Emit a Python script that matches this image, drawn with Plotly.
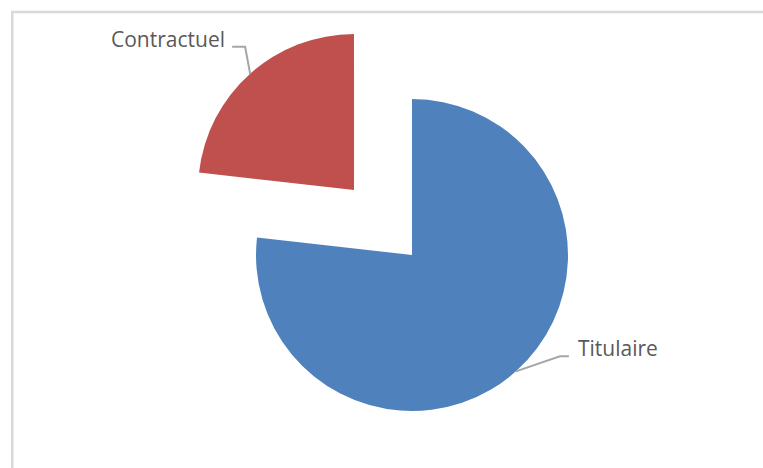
import math
import plotly.graph_objects as go

# Staff by contract type (share, %)
labels = ["Titulaire", "Contractuel"]
values = [76.8, 23.2]
colors = ["#4F81BD", "#C0504D"]
explode = [0.0, 0.558]  # radial offset of each slice, as a fraction of the radius

W, H = 763, 468
CX, CY, R = 412, 255, 156  # pie centre and radius, in pixels
TEXT = "#595959"
LEADER = "#A6A6A6"
FONT = "'Open Sans', Lato, sans-serif"


def px(x, y):
    """Pixel position -> paper coordinates."""
    return x / W, 1 - y / H


def domain(cx, cy, r):
    return dict(x=[(cx - r) / W, (cx + r) / W],
                y=[(H - cy - r) / H, (H - cy + r) / H])


total = sum(values)
start = 0.0
mids = []
for v in values:
    frac = v / total
    mids.append((start + frac / 2) * 2 * math.pi)  # clockwise from 12 o'clock
    start += frac

fig = go.Figure()
shapes = []
annotations = []

# label placement relative to the slice's arc anchor: (elbow dx, dy), horizontal run, text gap
label_geom = {
    "Contractuel": ((-5, -27), -13, -5, "right"),
    "Titulaire": ((44, -15), 9, 7, "left"),
}

for i, lab in enumerate(labels):
    a = mids[i]
    ox = math.sin(a) * explode[i] * R
    oy = -math.cos(a) * explode[i] * R
    cx, cy = CX + ox, CY + oy
    slice_colors = [c if j == i else "rgba(0,0,0,0)" for j, c in enumerate(colors)]
    fig.add_trace(go.Pie(
        labels=labels, values=values, sort=False, direction="clockwise",
        rotation=0, domain=domain(cx, cy, R),
        marker=dict(colors=slice_colors, line=dict(width=0)),
        textinfo="none", hoverinfo="label+percent", showlegend=False,
    ))

    # leader line from the slice's arc to its label
    ax, ay = cx + math.sin(a) * R, cy - math.cos(a) * R
    (edx, edy), run, gap, anchor = label_geom[lab]
    ex, ey = ax + edx, ay + edy
    tx, ty = ex + run, ey
    p0, p1, p2 = px(ax, ay), px(ex, ey), px(tx, ty)
    shapes.append(dict(
        type="path", xref="paper", yref="paper",
        path=f"M {p0[0]} {p0[1]} L {p1[0]} {p1[1]} L {p2[0]} {p2[1]}",
        line=dict(color=LEADER, width=2),
    ))
    lx, ly = px(tx + gap, ty - 8)
    annotations.append(dict(
        text=lab, x=lx, y=ly, xref="paper", yref="paper",
        xanchor=anchor, yanchor="middle", showarrow=False,
        font=dict(family=FONT, size=21, color=TEXT),
    ))

# chart-area frame
fx, fy = px(12.3, 12)
shapes.append(dict(type="rect", xref="paper", yref="paper",
                   x0=fx, x1=1.05, y0=-0.05, y1=fy,
                   line=dict(color="#D9D9D9", width=2.5)))

fig.update_layout(
    width=W, height=H,
    margin=dict(l=0, r=0, t=0, b=0),
    paper_bgcolor="white", plot_bgcolor="white",
    shapes=shapes, annotations=annotations,
    showlegend=False,
)

fig.write_html("out.html")
